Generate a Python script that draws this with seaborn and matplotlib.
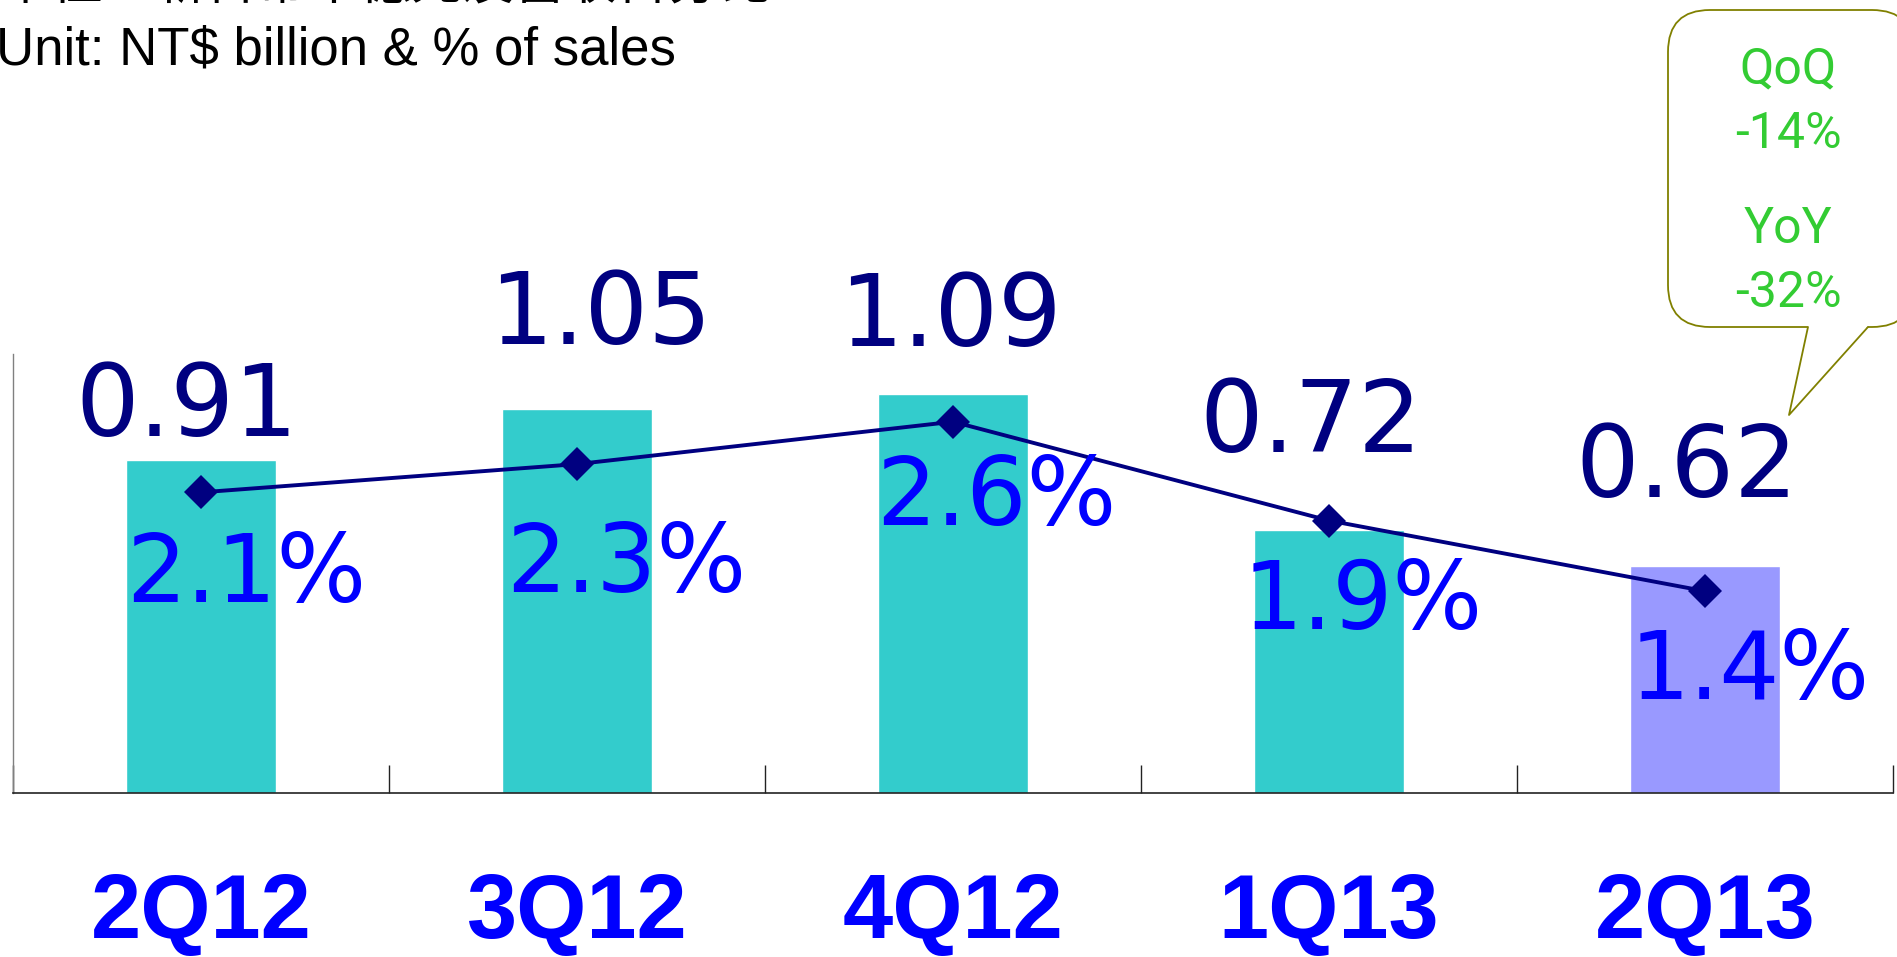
import numpy as np
import pandas as pd
import seaborn as sns
import matplotlib.pyplot as plt
from matplotlib.patches import FancyBboxPatch, Polygon
from matplotlib.lines import Line2D

# Data
quarters = ['2Q12', '3Q12', '4Q12', '1Q13', '2Q13']
values = [0.91, 1.05, 1.09, 0.72, 0.62]      # NT$ billion
pct_sales = [2.1, 2.3, 2.6, 1.9, 1.4]         # % of sales
value_labels = ['0.91', '1.05', '1.09', '0.72', '0.62']
pct_labels = ['2.1%', '2.3%', '2.6%', '1.9%', '1.4%']
callout_lines = ['QoQ', '-14%', 'YoY', '-32%']

# label nudges (points) to mimic the slide's hand-placed labels
val_dx = [-10, 17, -2, -13, -13]
val_dy = [17, 47, 35, 56, 50]
pct_dx = [-54, -51, -55, -62, -54]
pct_dy = [-79, -92, -74, -78, -78]

df = pd.DataFrame({'quarter': quarters, 'value': values, 'pct': pct_sales})

sns.set_style('white')
plt.rcParams['font.family'] = ['DejaVu Sans']

fig = plt.figure(figsize=(18.97, 9.57), dpi=100)
ax = fig.add_axes([13 / 1897, 164 / 957, 1880 / 1897, 439 / 957])

bar_colors = ['#33CCCC'] * 4 + ['#9999FF']
sns.barplot(data=df, x='quarter', y='value', hue='quarter', palette=bar_colors,
            legend=False, width=0.4, saturation=1, ax=ax)
ax.set_xlim(-0.5, 4.5)
ax.set_ylim(0, 1.2)
ax.set_xlabel('')
ax.set_ylabel('')
ax.set_yticks([])

# boundaries as major ticks (pointing up), quarter names as minor labels
ax.set_xticks(np.arange(-0.5, 5, 1))
ax.set_xticklabels([])
ax.tick_params(axis='x', which='major', bottom=True, direction='in', length=20,
               width=1, color='#222222')
ax.set_xticks(range(5), quarters, minor=True)
ax.tick_params(axis='x', which='minor', bottom=True, length=0, pad=57)
for lab in ax.get_xticklabels(minor=True):
    lab.set_fontfamily('Liberation Sans')
    lab.set_fontweight('bold')
    lab.set_fontsize(65)
    lab.set_color('#0000FF')

for s in ['top', 'right']:
    ax.spines[s].set_visible(False)
ax.spines['left'].set_color('#808080')
ax.spines['left'].set_linewidth(1)
ax.spines['bottom'].set_color('#222222')
ax.spines['bottom'].set_linewidth(1.2)

for i, v in enumerate(values):
    ax.annotate(value_labels[i], xy=(i, v), xytext=(val_dx[i], val_dy[i]),
                textcoords='offset points', ha='center', va='baseline',
                fontsize=72, color='#000080')

# % of sales on a hidden secondary axis
ax2 = ax.twinx()
sns.lineplot(data=df, x=np.arange(5), y='pct', ax=ax2, color='#000080', linewidth=2.8,
             marker='D', markersize=17, markeredgewidth=0, markerfacecolor='#000080')
ax2.set_ylim(-0.03, 3.08)
ax2.set_xlim(-0.5, 4.5)
ax2.set_yticks([])
ax2.set_ylabel('')
for s in ax2.spines.values():
    s.set_visible(False)

for i, p in enumerate(pct_sales):
    ax2.annotate(pct_labels[i], xy=(i, p), xytext=(pct_dx[i], pct_dy[i]),
                 textcoords='offset points', ha='left', va='baseline',
                 fontsize=68, color='#0000FF')

# header text (top line cut off by the slide edge)
fig.text(0.0, 1 + 1 / 957, '單位：新台幣十億元及營收百分比', ha='left', va='baseline',
         fontsize=37, color='black', family=['Noto Sans CJK TC', 'DejaVu Sans'])
fig.text(-4 / 1897, 1 - 65 / 957, 'Unit: NT$ billion & % of sales', ha='left',
         va='baseline', fontsize=38, color='black', family='Liberation Sans')

# speech-bubble callout, in inches (1 in = 100 px)
tr = fig.dpi_scale_trans
edge = '#808000'
box = FancyBboxPatch((16.68, 6.30), 2.46, 3.17, boxstyle='round,pad=0,rounding_size=0.42',
                     facecolor='white', edgecolor=edge, linewidth=1.3, transform=tr)
fig.patches.append(box)
tail = Polygon([(18.08, 6.31), (17.89, 5.42), (18.68, 6.31)], closed=True,
               facecolor='white', edgecolor='none', transform=tr)
fig.patches.append(tail)
fig.lines.append(Line2D([18.08, 17.89, 18.68], [6.30, 5.42, 6.30], color=edge,
                        linewidth=1.3, transform=tr))

for txt, base in zip(callout_lines, [83, 148, 243, 307]):
    fig.text(17.88, (957 - base) / 100, txt, transform=tr, ha='center', va='baseline',
             fontsize=36, color='#33CC33', family='Roboto')

fig.savefig('out.png', dpi=100)
